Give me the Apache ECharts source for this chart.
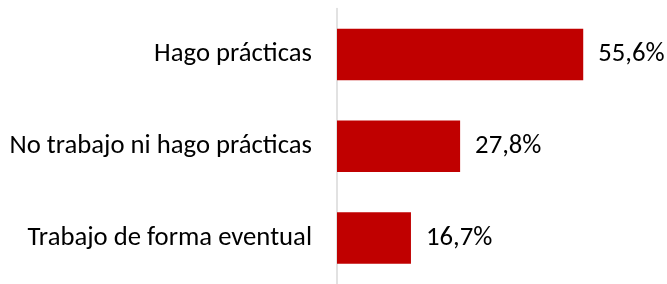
<!DOCTYPE html>
<html>
<head>
<meta charset="utf-8">
<script src="https://cdn.jsdelivr.net/npm/echarts@6/dist/echarts.min.js"></script>
<style>
  html, body { margin: 0; padding: 0; background: #fff; }
  #chart { width: 667px; height: 284px; }
</style>
</head>
<body>
<div id="chart"></div>
<script>
// datos (de arriba a abajo)
const categories = ['Hago prácticas', 'No trabajo ni hago prácticas', 'Trabajo de forma eventual'];
const values = [55.6, 27.8, 16.7];

const chart = echarts.init(document.getElementById('chart'));
const fontFamily = 'Carlito, "Open Sans", sans-serif';

chart.setOption({
    animation: false,
    grid: { left: 337, width: 310, top: 8.5, height: 281 },
    xAxis: {
        type: 'value',
        min: 0,
        max: 70,
        show: false
    },
    yAxis: {
        type: 'category',
        inverse: true,
        data: categories,
        axisLine: { show: true, lineStyle: { color: '#d9d9d9', width: 1.5 } },
        axisTick: { show: false },
        axisLabel: { margin: 25, fontSize: 26.7, color: '#000', fontFamily: fontFamily }
    },
    series: [{
        type: 'bar',
        data: values,
        barCategoryGap: '44%',
        itemStyle: { color: '#c00000' },
        label: {
            show: true,
            position: 'right',
            distance: 15,
            fontSize: 26.7,
            color: '#000',
            fontFamily: fontFamily,
            formatter: p => p.value.toFixed(1).replace('.', ',') + '%'
        }
    }]
});
</script>
</body>
</html>
